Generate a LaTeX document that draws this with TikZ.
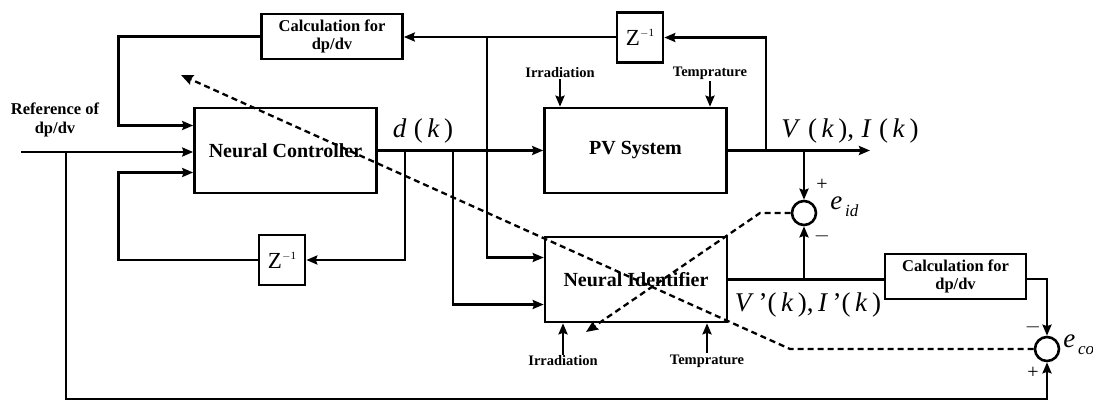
\documentclass[tikz,border=0pt]{standalone}
\usepackage{fontspec}
\setmainfont{Liberation Serif}
\usetikzlibrary{arrows.meta,positioning,calc}
\newcommand{\pxsize}[1]{\fontsize{#1}{1.1\dimexpr#1pt\relax}\selectfont}

\begin{document}
\begin{tikzpicture}[x=1pt,y=-1pt,line width=2.6pt,
    every node/.style={inner sep=0pt},
    blk/.style={draw,minimum width=182pt,minimum height=85pt,
        font=\pxsize{20}\bfseries},
    calcbox/.style={draw,minimum width=141pt,minimum height=45pt,
        align=center,font=\pxsize{16.5}\bfseries},
    zbox/.style={draw,minimum width=46pt,minimum height=50pt,
        font=\pxsize{23}},
    sumc/.style={draw,circle,minimum size=24pt},
    lbl/.style={font=\pxsize{14.5}\bfseries},
    mlbl/.style={font=\pxsize{27}},
    sig/.style={font=\pxsize{20}},
    arr/.style={-{Stealth[length=11pt,width=9pt,inset=1.5pt]}},
    darr/.style={dash pattern=on 6pt off 4pt,line width=2.3pt,
        -{Stealth[length=12pt,width=10pt,inset=1.5pt]}}]
  \useasboundingbox (0,0) rectangle (1093,401);

  %% Main blocks
  \node[blk] (nc) at (285.5,150.5) {Neural Controller};
  \node[blk] (pv) at (635.5,150.5) {PV System};
  \node[blk] (ni) at (636,279.5) {Neural Identifier};
  \node[calcbox] (calcA) at (332,36.5) {Calculation for\\dp/dv};
  \node[calcbox] (calcB) at (955.5,276.5) {Calculation for\\dp/dv};
  \node[zbox] (zA) at (640,37.5) {Z\raisebox{9pt}{\pxsize{11}$-$1}};
  \node[zbox] (zB) at (282,260) {Z\raisebox{9pt}{\pxsize{11}$-$1}};

  %% Summing junctions
  \node[sumc] (sid) at (804,213) {};
  \node[sumc] (sco) at (1047,349) {};

  %% Labels
  \node[font=\pxsize{16.5}\bfseries,align=center] (ref) at (55,120)
        {Reference of\\dp/dv};
  \node[lbl] (irrA) at (560,73) {Irradiation};
  \node[lbl] (tmpA) at (710,73) {Temprature};
  \node[lbl] (irrB) at (563,361) {Irradiation};
  \node[lbl] (tmpB) at (707,361) {Temprature};
  \node[mlbl] (dk) at (423,131) {\textit{d}\;(\,\textit{k}\,)};
  \node[mlbl] (vk) at (850,131)
        {\textit{V}\;(\,\textit{k}\,),\;\textit{I}\;(\,\textit{k}\,)};
  \node[mlbl] (vpk) at (808,305)
        {\textit{V}\,'(\,\textit{k}\,),\,\textit{I}\,'(\,\textit{k}\,)};
  \node[mlbl,anchor=west] (eid) at (829,207)
        {\textit{e}\raisebox{-7pt}{\pxsize{17}\,\textit{id}}};
  \node[mlbl,anchor=west] (eco) at (1062,345)
        {\textit{e}\raisebox{-7pt}{\pxsize{17}\,\textit{co}}};
  \node[sig] (pid) at (822,185) {+};
  \node[sig] (mid) at (822,236) {$-$};
  \node[sig] (mco) at (1033,327) {$-$};
  \node[sig] (pco) at (1033,373) {+};

  %% Branch points
  \coordinate (refin) at (21,152);
  \coordinate (refbr) at (66,152);
  \coordinate (dA) at (405,150.5);
  \coordinate (dB) at (453,150.5);
  \coordinate (zc) at (487,37);
  \coordinate (vout) at (870,150.5);
  \coordinate (zbr) at (766,150.5);
  \coordinate (idbr) at (804,150.5);
  \coordinate (nibr) at (804,279);
  \coordinate (cobend) at (790,349);
  \coordinate (coarr) at (181,75);
  \coordinate (idbend) at (760,213);
  \coordinate (idarr) at (586,332);

  %% Controller inputs
  \draw[arr] (refin) -- (refin -| nc.west);
  \draw[arr] (calcA.west) -- ++(-142,0) |- ([yshift=25pt]nc.west);
  \draw[arr] (zB.west) -- ++(-139,0) |- ([yshift=-22pt]nc.west);
  \draw[arr] (refbr) -- ++(0,247) -| (sco.south);

  %% Control signal
  \draw[arr] (nc.east) -- (pv.west);
  \draw[arr] (dA) |- (zB.east);
  \draw[arr] (dB) |- ([yshift=-25pt]ni.west);
  \draw[arr] (zA.west |- zc) -- (zc -| calcA.east);
  \draw[arr] (zc) |- ([yshift=22pt]ni.west);

  %% Plant output
  \draw[arr] (pv.east) -- (vout);
  \draw[arr] (zbr) |- (zA.east);
  \draw[arr] (idbr) -- (sid.north);
  \draw[arr] (irrA) -- (irrA |- pv.north);
  \draw[arr] (tmpA) -- (tmpA |- pv.north);

  %% Identifier output
  \draw (ni.east) -- (ni.east -| calcB.west);
  \draw[arr] (nibr) -- (sid.south);
  \draw[arr] ([yshift=-2.5pt]calcB.east) -| (sco.north);
  \draw[arr] (irrB) -- (irrB |- ni.south);
  \draw[arr] (tmpB) -- (tmpB |- ni.south);

  %% Error back-propagation
  \draw[darr] (sco.west) -- (cobend) -- (coarr);
  \draw[darr] (sid.west) -- (idbend) -- (idarr);
\end{tikzpicture}
\end{document}
